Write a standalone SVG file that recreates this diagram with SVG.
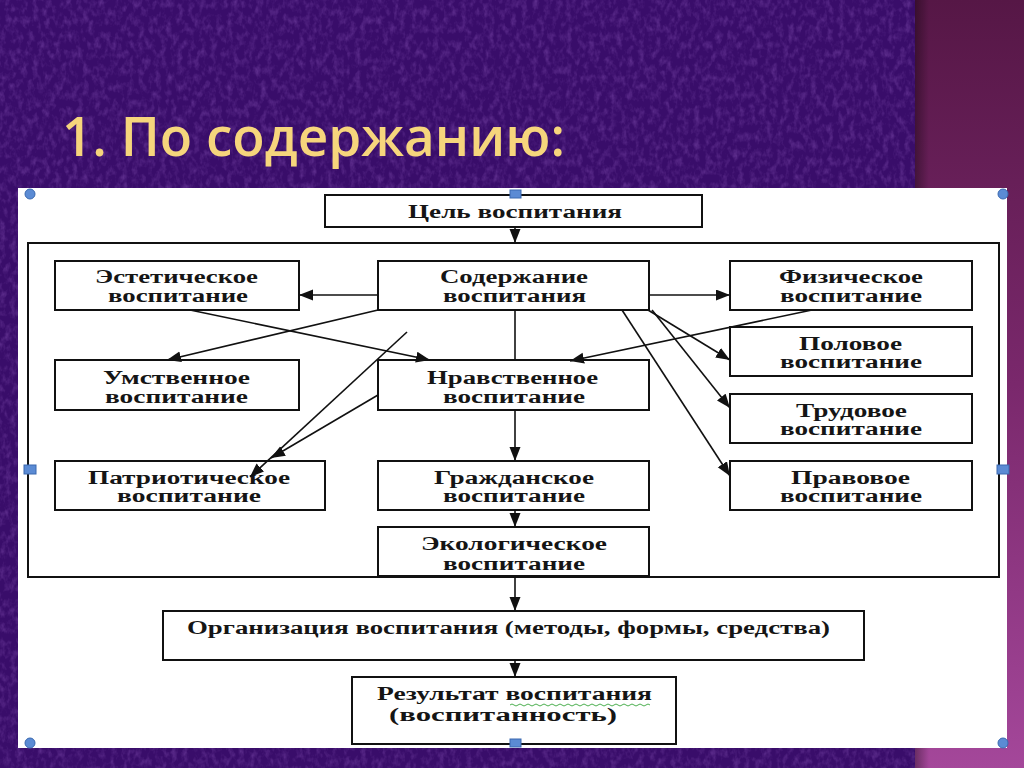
<svg xmlns="http://www.w3.org/2000/svg" width="1024" height="768" viewBox="0 0 1024 768">
<defs>
<style>
.box{fill:#fff;stroke:#111;stroke-width:2}
.ln{fill:none;stroke:#111;stroke-width:1.6}
.t{font-family:"Liberation Serif","DejaVu Serif",serif;font-weight:bold;font-size:18px;fill:#151515}
.h{fill:#5b8bd4;stroke:#3a69b0;stroke-width:1}
</style>
<marker id="ah" markerUnits="userSpaceOnUse" markerWidth="16" markerHeight="12" refX="14" refY="5.5" orient="auto">
<path d="M0,0 L14,5.5 L0,11 z" fill="#111"/>
</marker>
<linearGradient id="rs" x1="0" y1="0" x2="0" y2="1">
<stop offset="0" stop-color="#561746"/>
<stop offset="0.5" stop-color="#7a286c"/>
<stop offset="1" stop-color="#a4479a"/>
</linearGradient>
<linearGradient id="sh" x1="0" y1="0" x2="1" y2="0">
<stop offset="0" stop-color="#000" stop-opacity="0.35"/>
<stop offset="1" stop-color="#000" stop-opacity="0"/>
</linearGradient>
<filter id="tex" x="0" y="0" width="100%" height="100%">
<feTurbulence type="fractalNoise" baseFrequency="0.18 0.12" numOctaves="3" seed="11"/>
<feColorMatrix values="0 0 0 0 0.42  0 0 0 0 0.18  0 0 0 0 0.7  0 0 0 1.4 -0.6"/>
</filter>
</defs>
<g id="background">
<rect width="1024" height="768" fill="#390d6a"/>
<rect width="915" height="768" filter="url(#tex)" opacity="0.45"/>
<rect x="915" y="0" width="109" height="768" fill="url(#rs)"/>
<rect x="915" y="0" width="14" height="768" fill="url(#sh)"/>
</g>
<text id="title" x="62" y="156" font-family="Open Sans, Liberation Sans, Arial, sans-serif" font-weight="600" font-size="55" fill="#f6d57c" textLength="503" lengthAdjust="spacingAndGlyphs">1. По содержанию:</text>
<rect id="panel" x="18" y="188" width="989" height="560" fill="#fff"/>
<rect id="outer" x="28" y="243" width="971" height="334" fill="none" stroke="#111" stroke-width="2"/>
<g id="n-goal"><rect class="box" x="325" y="195" width="377" height="32"/><text class="t" x="408" y="218" textLength="214" lengthAdjust="spacingAndGlyphs">Цель воспитания</text></g>
<g id="n-aesth"><rect class="box" x="55" y="261" width="244" height="49"/><text class="t" x="95" y="283" textLength="163" lengthAdjust="spacingAndGlyphs">Эстетическое</text><text class="t" x="108" y="302" textLength="140" lengthAdjust="spacingAndGlyphs">воспитание</text></g>
<g id="n-content"><rect class="box" x="378" y="261" width="271" height="49"/><text class="t" x="440" y="283" textLength="148" lengthAdjust="spacingAndGlyphs">Содержание</text><text class="t" x="443" y="302" textLength="143" lengthAdjust="spacingAndGlyphs">воспитания</text></g>
<g id="n-phys"><rect class="box" x="730" y="261" width="242" height="49"/><text class="t" x="779" y="283" textLength="144" lengthAdjust="spacingAndGlyphs">Физическое</text><text class="t" x="780" y="302" textLength="142" lengthAdjust="spacingAndGlyphs">воспитание</text></g>
<g id="n-mental"><rect class="box" x="55" y="360" width="244" height="50"/><text class="t" x="103" y="384" textLength="147" lengthAdjust="spacingAndGlyphs">Умственное</text><text class="t" x="105" y="403" textLength="143" lengthAdjust="spacingAndGlyphs">воспитание</text></g>
<g id="n-moral"><rect class="box" x="378" y="360" width="271" height="50"/><text class="t" x="427" y="384" textLength="171" lengthAdjust="spacingAndGlyphs">Нравственное</text><text class="t" x="443" y="403" textLength="142" lengthAdjust="spacingAndGlyphs">воспитание</text></g>
<g id="n-sex"><rect class="box" x="730" y="327" width="242" height="49"/><text class="t" x="799" y="350" textLength="103" lengthAdjust="spacingAndGlyphs">Половое</text><text class="t" x="780" y="368" textLength="142" lengthAdjust="spacingAndGlyphs">воспитание</text></g>
<g id="n-labor"><rect class="box" x="730" y="394" width="242" height="49"/><text class="t" x="796" y="417" textLength="111" lengthAdjust="spacingAndGlyphs">Трудовое</text><text class="t" x="780" y="435" textLength="142" lengthAdjust="spacingAndGlyphs">воспитание</text></g>
<g id="n-patr"><rect class="box" x="55" y="461" width="270" height="49"/><text class="t" x="88" y="484" textLength="202" lengthAdjust="spacingAndGlyphs">Патриотическое</text><text class="t" x="117" y="502" textLength="144" lengthAdjust="spacingAndGlyphs">воспитание</text></g>
<g id="n-civic"><rect class="box" x="378" y="461" width="271" height="49"/><text class="t" x="434" y="484" textLength="160" lengthAdjust="spacingAndGlyphs">Гражданское</text><text class="t" x="443" y="502" textLength="142" lengthAdjust="spacingAndGlyphs">воспитание</text></g>
<g id="n-legal"><rect class="box" x="730" y="461" width="242" height="49"/><text class="t" x="791" y="484" textLength="119" lengthAdjust="spacingAndGlyphs">Правовое</text><text class="t" x="780" y="502" textLength="142" lengthAdjust="spacingAndGlyphs">воспитание</text></g>
<g id="n-eco"><rect class="box" x="378" y="527" width="271" height="49"/><text class="t" x="421" y="550" textLength="186" lengthAdjust="spacingAndGlyphs">Экологическое</text><text class="t" x="443" y="570" textLength="142" lengthAdjust="spacingAndGlyphs">воспитание</text></g>
<g id="n-org"><rect class="box" x="163" y="611" width="701" height="49"/><text class="t" x="187" y="634" textLength="643" lengthAdjust="spacingAndGlyphs">Организация воспитания (методы, формы, средства)</text></g>
<g id="n-result"><rect class="box" x="352" y="677" width="324" height="67"/><text class="t" x="377" y="700" textLength="275" lengthAdjust="spacingAndGlyphs">Результат воспитания</text><text class="t" x="389" y="721" textLength="228" lengthAdjust="spacingAndGlyphs">(воспитанность)</text>
<path d="M510,705 q2,-2 4,0 t4,0 t4,0 t4,0 t4,0 t4,0 t4,0 t4,0 t4,0 t4,0 t4,0 t4,0 t4,0 t4,0 t4,0 t4,0 t4,0 t4,0 t4,0 t4,0 t4,0 t4,0 t4,0 t4,0 t4,0 t4,0 t4,0 t4,0 t4,0 t4,0 t4,0 t4,0 t4,0 t4,0 t4,0" fill="none" stroke="#4caf50" stroke-width="1"/></g>
<g id="connectors">
<line class="ln" x1="515" y1="227" x2="515" y2="243" marker-end="url(#ah)"/>
<line class="ln" x1="378" y1="295" x2="299" y2="295" marker-end="url(#ah)"/>
<line class="ln" x1="649" y1="295" x2="730" y2="295" marker-end="url(#ah)"/>
<line class="ln" x1="515" y1="310" x2="515" y2="360"/>
<line class="ln" x1="190" y1="310" x2="430" y2="360" marker-end="url(#ah)"/>
<line class="ln" x1="378" y1="310" x2="167" y2="360" marker-end="url(#ah)"/>
<line class="ln" x1="812" y1="310" x2="570" y2="361" marker-end="url(#ah)"/>
<line class="ln" x1="407" y1="332" x2="250" y2="477" marker-end="url(#ah)"/>
<line class="ln" x1="378" y1="395" x2="271" y2="458" marker-end="url(#ah)"/>
<line class="ln" x1="648" y1="310" x2="730" y2="360" marker-end="url(#ah)"/>
<line class="ln" x1="652" y1="310" x2="730" y2="408" marker-end="url(#ah)"/>
<line class="ln" x1="622" y1="310" x2="730" y2="476" marker-end="url(#ah)"/>
<line class="ln" x1="515" y1="410" x2="515" y2="461" marker-end="url(#ah)"/>
<line class="ln" x1="515" y1="510" x2="515" y2="527" marker-end="url(#ah)"/>
<line class="ln" x1="515" y1="577" x2="515" y2="611" marker-end="url(#ah)"/>
<line class="ln" x1="515" y1="660" x2="515" y2="677" marker-end="url(#ah)"/>
</g>
<g id="handles">
<circle class="h" cx="30" cy="194" r="5"/>
<circle class="h" cx="1003" cy="194" r="5"/>
<circle class="h" cx="30" cy="743" r="5"/>
<circle class="h" cx="1003" cy="743" r="5"/>
<rect class="h" x="510" y="190" width="11" height="8"/>
<rect class="h" x="510" y="739" width="11" height="8"/>
<rect class="h" x="24" y="465" width="12" height="9"/>
<rect class="h" x="997" y="465" width="12" height="9"/>
</g>
</svg>
